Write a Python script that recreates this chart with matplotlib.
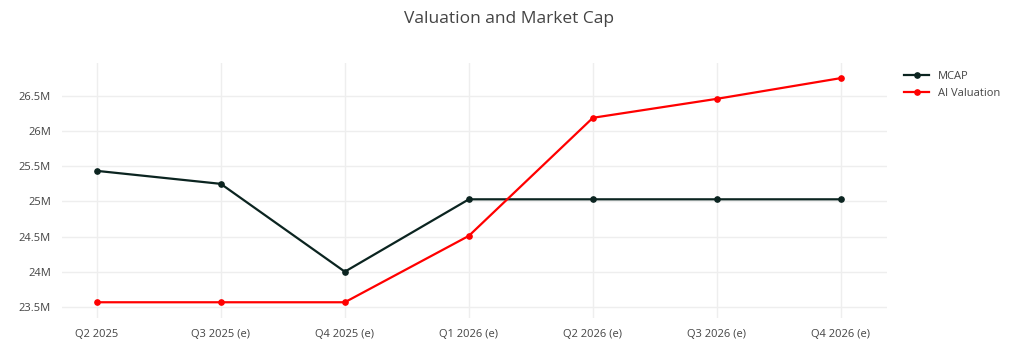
import matplotlib.pyplot as plt
from matplotlib.ticker import FuncFormatter

quarters = ['Q2 2025', 'Q3 2025 (e)', 'Q4 2025 (e)', 'Q1 2026 (e)',
            'Q2 2026 (e)', 'Q3 2026 (e)', 'Q4 2026 (e)']
mcap = [25.435e6, 25.25e6, 24.0e6, 25.03e6, 25.03e6, 25.03e6, 25.03e6]
ai_valuation = [23.565e6, 23.565e6, 23.565e6, 24.51e6, 26.19e6, 26.46e6, 26.755e6]

plt.rcParams['font.family'] = ['Open Sans', 'DejaVu Sans']
text_color = '#444444'

fig = plt.figure(figsize=(10.17, 3.48), dpi=100)
ax = fig.add_axes([0.061, 0.086, 0.811, 0.733])

x = range(len(quarters))
ax.plot(x, mcap, color='#0b2420', lw=1.6, marker='o', ms=3.8, label='MCAP')
ax.plot(x, ai_valuation, color='#ff0000', lw=1.6, marker='o', ms=3.8, label='AI Valuation')

ax.set_xlim(-0.28, 6.37)
ax.set_ylim(23.34e6, 26.97e6)
ax.set_xticks(list(x))
ax.set_xticklabels(quarters)
ax.set_yticks([23.5e6, 24e6, 24.5e6, 25e6, 25.5e6, 26e6, 26.5e6])


def fmt_m(v, pos):
    return '{:g}M'.format(v / 1e6)


ax.yaxis.set_major_formatter(FuncFormatter(fmt_m))
ax.grid(True, color='#eeeeee', lw=1)
ax.set_axisbelow(True)
for s in ax.spines.values():
    s.set_visible(False)
ax.tick_params(length=0, labelsize=8, colors=text_color, pad=8)

fig.suptitle('Valuation and Market Cap', x=0.5, y=0.968, fontsize=12.5,
             color=text_color)
leg = ax.legend(loc='upper left', bbox_to_anchor=(1.016, 0.985), frameon=False,
                fontsize=8, handlelength=2.2, labelspacing=0.55, borderaxespad=0)
for t in leg.get_texts():
    t.set_color(text_color)

fig.savefig('out.png', dpi=100)
